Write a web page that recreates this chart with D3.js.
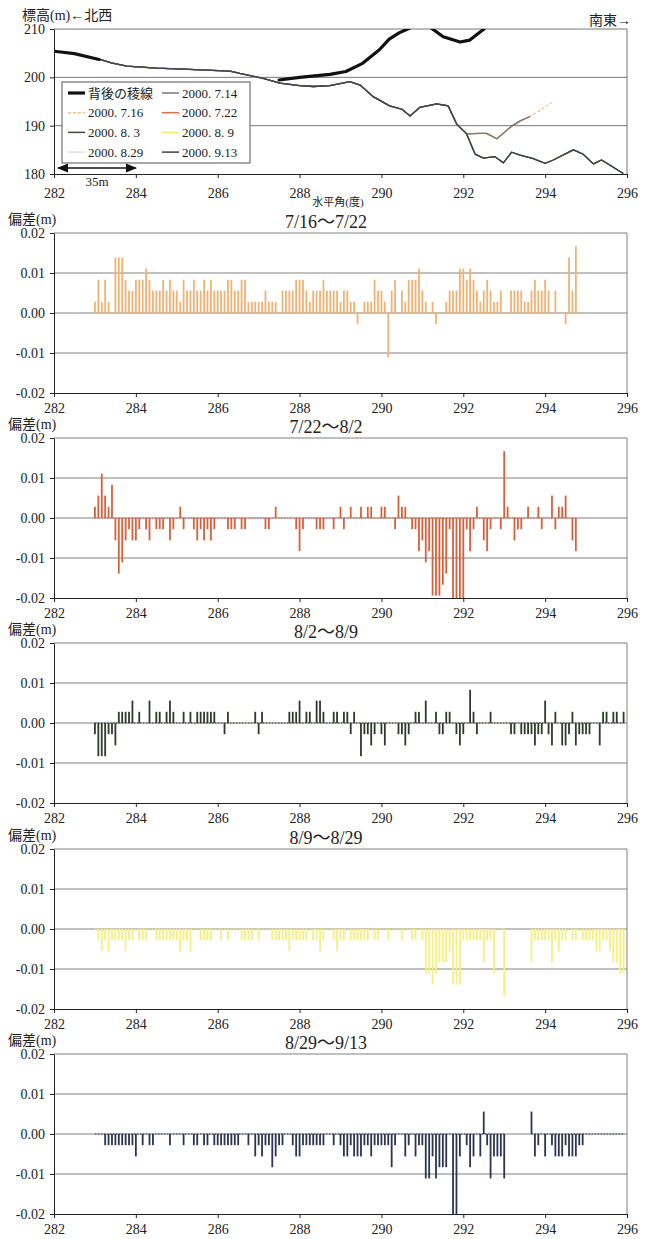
<!DOCTYPE html>
<html>
<head>
<meta charset="utf-8">
<title>偏差</title>
<script src="https://d3js.org/d3.v7.min.js"></script>
<style>
body{margin:0; background:white;}
svg{display:block; font-family:"Liberation Serif","Noto Sans CJK JP",serif;}
text{fill:#222;}
</style>
</head>
<body>
<script>
// ---- data ----
var xTicks = [282, 284, 286, 288, 290, 292, 294, 296];
var elevTicks = [180, 190, 200, 210];
var devTicks = [-0.02, -0.01, 0, 0.01, 0.02];

// measuring points: every 5' (1/12 deg) from 283.0
var angleStart = 283;
var angleStep = 1 / 12;

// ridge behind (背後の稜線), null = break
var ridgeAngle = [282.0, 282.5, 283.1, null, 287.5, 288.0, 288.74, 289.13, 289.54, 289.95, 290.19, 290.43, 290.67, 290.9, 291.1, 291.23, 291.51, 291.92, 292.16, 292.49, 292.6];
var ridgeElev  = [205.4, 204.9, 203.7, null, 199.45, 200.0, 200.6, 201.2, 202.9, 205.7, 207.9, 209.2, 210.1, 211.2, 211.0, 210.1, 208.4, 207.3, 207.7, 209.9, 210.8];

// surveyed profile, common part
var commonAngle = [283.0, 283.12, 283.4, 283.78, 284.5, 285.16, 285.73, 286.3, 286.54, 287.11, 287.52, 288.0, 288.34, 288.74, 289.23, 289.48, 289.8, 290.2, 290.5, 290.7, 290.94, 291.35, 291.63, 291.84, 292.08];
var commonElev  = [203.9, 203.7, 203.0, 202.3, 201.9, 201.7, 201.5, 201.3, 200.8, 199.8, 198.8, 198.3, 198.1, 198.3, 199.1, 198.4, 196.0, 194.1, 193.4, 192.0, 193.8, 194.5, 194.1, 190.3, 188.3];
// July: upper branch
var upperAngle = [292.4, 292.57, 292.82, 293.18, 293.39, 293.63];
var upperElev  = [188.4, 188.4, 187.3, 189.9, 191.0, 191.9];
var upperExtAngle = [293.9, 294.16];
var upperExtElev  = [193.3, 194.8];
// August / September: lower branch
var lowerAngle = [292.29, 292.49, 292.77, 292.98, 293.18, 293.39, 293.71, 294.0, 294.2, 294.69, 294.93, 295.18, 295.38, 295.91];
var lowerElev  = [184.1, 183.3, 183.6, 182.3, 184.5, 183.9, 183.2, 182.2, 182.9, 185.0, 184.1, 182.1, 182.9, 180.1];

var seriesNames = ["2000. 7.14", "2000. 7.16", "2000. 7.22", "2000. 8. 3", "2000. 8. 9", "2000. 8.29", "2000. 9.13"];
var seriesColors = ["#7a7a7a", "#f2c48c", "#d8704a", "#3e4d33", "#f2ee5a", "#e2e2da", "#3a4254"];
var seriesBranch = ["upper", "upperLong", "upper", "lower", "lower", "lower", "lower"];

// deviations (m)
var panelTitles = ["7/16～7/22", "7/22～8/2", "8/2～8/9", "8/9～8/29", "8/29～9/13"];
var barColors = ["#f2b274", "#d9603a", "#2e3b2a", "#f5f07c", "#2b3550"];

var dev1 = [0.0028,0.0083,0.0028,0.0083,0.0028,0,0.0139,0.0139,0.0139,0.0083,
 0.0056,0.0056,0.0083,0.0083,0.0083,0.0111,0.0083,0.0056,0.0056,0.0056,
 0.0083,0.0056,0.0083,0.0056,0.0056,0.0028,0.0083,0.0056,0.0056,0.0083,
 0.0056,0.0056,0.0083,0.0056,0.0083,0.0056,0.0056,0.0056,0.0056,0.0083,
 0.0083,0.0056,0.0056,0.0083,0.0083,0.0028,0.0028,0.0028,0.0028,0.0028,
 0.0056,0.0028,0.0028,0.0028,0,0.0056,0.0056,0.0056,0.0056,0.0083,
 0.0083,0.0083,0.0056,0.0028,0.0056,0.0056,0.0056,0.0083,0.0056,0.0056,
 0.0056,0.0056,0.0028,0.0056,0.0056,0.0028,0.0028,-0.0028,0,0.0028,
 0.0028,0.0028,0.0083,0.0056,0.0056,0.0028,-0.0111,0.0056,0.0083,0,
 0.0056,0.0028,0.0083,0.0083,0.0083,0.0111,0.0056,0.0028,0,0.0028,
 -0.0028,0,0,0.0028,0.0056,0.0056,0.0056,0.0111,0.0111,0.0083,
 0.0111,0.0083,0.0056,0.0028,0.0056,0.0083,0.0056,0.0028,0.0028,0.0056,
 0,0,0.0056,0.0056,0.0056,0.0056,0.0028,0.0028,0.0056,0.0083,
 0.0056,0.0056,0.0083,0.0056,0,0.0056,0,0,-0.0028,0.0139,
 0.0056,0.0167];

var dev2 = [0.0028,0.0056,0.0111,0.0056,0.0028,0.0083,-0.0056,-0.0139,-0.0111,-0.0056,
 -0.0028,-0.0056,-0.0056,-0.0028,0,-0.0028,-0.0056,0,-0.0028,-0.0028,
 -0.0028,0,-0.0056,-0.0028,0,0.0028,-0.0028,0,0,-0.0028,
 -0.0056,-0.0028,-0.0056,-0.0028,-0.0056,-0.0028,0,0,0,-0.0028,
 -0.0028,-0.0028,0,-0.0028,-0.0028,0,0,0,0,0,
 -0.0028,-0.0028,0,0.0028,0,0,0,0,0,-0.0028,
 -0.0083,-0.0028,0,0,0,-0.0028,-0.0028,-0.0028,0,0,
 -0.0028,0,0.0028,-0.0028,0,0.0028,0,0,0.0028,0,
 0.0028,0.0028,0,0,0.0028,0.0028,0,0,-0.0028,0.0056,
 0.0028,0.0028,0,-0.0028,-0.0028,-0.0083,-0.0056,-0.0111,-0.0083,-0.0194,
 -0.0194,-0.0194,-0.0167,-0.0139,-0.0028,-0.0222,-0.0222,-0.0222,-0.0222,-0.0028,
 -0.0083,-0.0028,0.0028,0,-0.0056,-0.0083,-0.0028,0,0,-0.0028,
 0.0167,0.0028,0,-0.0056,-0.0028,-0.0028,0,0.0028,0,0,
 0.0028,-0.0028,0,0,0.0056,-0.0028,0.0028,0.0028,0.0056,0,
 -0.0056,-0.0083];

var dev3 = [-0.0028,-0.0083,-0.0083,-0.0083,-0.0028,-0.0028,-0.0056,0.0028,0.0028,0.0028,
 0.0028,0.0056,0,0.0028,0,0,0.0056,0,0.0028,0.0028,
 0,0.0028,0.0056,0.0028,0,0,0.0028,0,0.0028,0,
 0.0028,0.0028,0.0028,0.0028,0.0028,0.0028,0,0,-0.0028,0.0028,
 0,0,0,0,0,0,0,0.0028,-0.0028,0.0028,
 0,0,0,0,0,0,0,0.0028,0.0028,0.0028,
 0.0056,0,0.0028,0.0028,0,0.0056,0.0056,0.0028,0,0,
 0.0028,0.0028,0,0.0028,0.0028,-0.0028,0.0028,0,-0.0083,-0.0028,
 -0.0028,-0.0056,-0.0028,0,-0.0028,-0.0056,0,0,0,-0.0028,
 -0.0028,-0.0056,-0.0028,0,0.0028,0.0028,0,0.0056,0,0,
 0.0028,-0.0028,-0.0028,0.0028,0.0028,0,-0.0028,-0.0056,-0.0028,0,
 0.0083,0.0028,-0.0028,0,0,0,0.0028,0,0,0,
 0,0,-0.0028,-0.0028,0,-0.0028,-0.0028,-0.0028,-0.0028,-0.0056,
 -0.0028,-0.0028,0.0056,-0.0028,-0.0056,0.0028,0,-0.0056,-0.0056,-0.0028,
 0.0028,-0.0056,-0.0028,-0.0028,-0.0028,-0.0028,0,0,-0.0056,0.0028,
 0.0028,0,0.0028,0.0028,0,0.0028];

var dev4 = [0,-0.0028,-0.0056,-0.0028,-0.0056,-0.0028,-0.0028,-0.0028,-0.0028,-0.0056,
 -0.0028,-0.0028,0,-0.0028,-0.0028,-0.0028,0,0,-0.0028,-0.0028,
 -0.0028,-0.0028,-0.0028,-0.0028,-0.0028,-0.0056,-0.0028,-0.0028,-0.0056,0,
 0,-0.0028,-0.0028,-0.0028,-0.0028,0,0,-0.0028,0,-0.0028,
 0,0,0,-0.0028,-0.0028,-0.0028,-0.0028,0,-0.0028,0,
 0,0,-0.0028,-0.0028,-0.0028,-0.0028,-0.0028,-0.0056,-0.0028,-0.0028,
 -0.0028,-0.0028,-0.0028,0,-0.0028,-0.0028,-0.0056,-0.0028,0,0,
 -0.0028,-0.0056,-0.0028,-0.0028,0,-0.0028,-0.0028,-0.0028,-0.0028,-0.0028,
 -0.0028,0,-0.0028,-0.0028,0,0,-0.0028,0,0,0,
 -0.0028,0,0,-0.0028,-0.0028,0,-0.0028,-0.0111,-0.0111,-0.0139,
 -0.0111,-0.0083,-0.0083,-0.0083,-0.0056,-0.0139,-0.0139,-0.0139,-0.0028,-0.0028,
 -0.0028,-0.0028,-0.0028,-0.0028,-0.0083,-0.0028,-0.0028,-0.0111,0,0,
 -0.0167,null,null,null,null,null,null,null,-0.0083,-0.0028,
 -0.0028,-0.0028,-0.0028,-0.0028,-0.0083,-0.0028,-0.0056,-0.0028,-0.0028,0,
 -0.0028,-0.0028,0,-0.0028,-0.0028,-0.0028,-0.0028,-0.0056,-0.0056,-0.0028,
 -0.0028,-0.0056,-0.0083,-0.0083,-0.0111,-0.0111];

var dev5 = [0,0,0,-0.0028,-0.0028,-0.0028,-0.0028,-0.0028,-0.0028,-0.0028,
 -0.0028,-0.0028,-0.0056,0,-0.0028,0,-0.0028,-0.0028,0,0,
 0,0,-0.0028,0,0,0,-0.0028,0,0,-0.0028,
 -0.0028,0,-0.0028,-0.0028,0,-0.0028,-0.0028,-0.0028,-0.0028,-0.0028,
 -0.0028,-0.0028,-0.0028,0,0,-0.0028,0,-0.0056,-0.0028,-0.0056,
 -0.0028,-0.0028,-0.0083,-0.0056,-0.0028,-0.0028,0,0,-0.0028,-0.0056,
 -0.0056,-0.0028,-0.0028,-0.0028,-0.0028,-0.0028,-0.0028,-0.0028,0,0,
 -0.0028,0,-0.0028,-0.0056,-0.0056,-0.0028,-0.0056,-0.0056,-0.0056,-0.0028,
 -0.0028,-0.0056,-0.0028,-0.0028,-0.0028,-0.0028,-0.0028,-0.0083,-0.0028,0,
 0,-0.0056,-0.0028,0,-0.0056,-0.0028,-0.0028,-0.0111,-0.0111,-0.0056,
 -0.0111,-0.0083,-0.0083,-0.0083,0,-0.0222,-0.0222,-0.0056,0,-0.0028,
 -0.0083,-0.0056,0,-0.0056,0.0056,-0.0028,-0.0111,-0.0056,-0.0056,-0.0056,
 -0.0111,null,null,null,null,null,null,null,0.0056,-0.0056,
 -0.0028,0,-0.0056,0,-0.0028,-0.0056,-0.0056,-0.0056,-0.0028,-0.0056,
 -0.0056,-0.0056,-0.0028,-0.0028,0,0,0,0,0,0,
 0,0,0,0,0,0];

var devSeries = [dev1, dev2, dev3, dev4, dev5];

// ---- drawing ----
var width = 652, height = 1239;
var svg = d3.select("body").append("svg").attr("width", width).attr("height", height);

var x = d3.scaleLinear().domain([282, 296]).range([54, 627]);

function styleAxis(g) {
  g.attr("font-family", null).attr("font-size", 14);
  g.select(".domain").attr("stroke", "#222");
  g.selectAll(".tick line").attr("stroke", "#222");
  g.selectAll(".tick text").attr("fill", "#222");
}

// ---------- top chart: elevation profile ----------
var topY0 = 29, topY1 = 174;
var yTop = d3.scaleLinear().domain([180, 210]).range([topY1, topY0]);

svg.append("g").selectAll("line")
  .data([190, 200, 210])
  .join("line")
  .attr("x1", x(282)).attr("x2", x(296))
  .attr("y1", function(d){ return yTop(d); }).attr("y2", function(d){ return yTop(d); })
  .attr("stroke", "#777").attr("stroke-width", 1);
svg.append("line").attr("x1", x(296)).attr("x2", x(296)).attr("y1", topY0).attr("y2", topY1)
  .attr("stroke", "#777");

svg.append("clipPath").attr("id", "clipTop")
  .append("rect").attr("x", x(282)).attr("y", topY0).attr("width", x(296) - x(282)).attr("height", topY1 - topY0);

function profile(branch) {
  var a = commonAngle.slice(), e = commonElev.slice();
  if (branch == "lower") {
    a = a.concat(lowerAngle); e = e.concat(lowerElev);
  } else {
    a = a.concat(upperAngle); e = e.concat(upperElev);
    if (branch == "upperLong") { a = a.concat(upperExtAngle); e = e.concat(upperExtElev); }
  }
  return a.map(function(v, i){ return [v, e[i]]; });
}

var line = d3.line()
  .defined(function(d){ return d[0] != null; })
  .x(function(d){ return x(d[0]); })
  .y(function(d){ return yTop(d[1]); });

var gLines = svg.append("g").attr("clip-path", "url(#clipTop)");
// light ones first, dark ones on top
[5, 1, 4, 2, 3, 0, 6].forEach(function(k){
  gLines.append("path")
    .attr("d", line(profile(seriesBranch[k])))
    .attr("fill", "none")
    .attr("stroke", seriesColors[k])
    .attr("stroke-width", 1.3)
    .attr("stroke-dasharray", k == 1 ? "3,2" : null);
});
gLines.append("path")
  .attr("d", line(ridgeAngle.map(function(v, i){ return [v, ridgeElev[i]]; })))
  .attr("fill", "none").attr("stroke", "#111").attr("stroke-width", 3.2)
  .attr("stroke-linejoin", "round").attr("stroke-linecap", "round");

svg.append("g").attr("transform", "translate(0," + topY1 + ")")
  .call(d3.axisBottom(x).tickValues(xTicks).tickSize(4).tickSizeOuter(0).tickPadding(10).tickFormat(d3.format("d")))
  .call(styleAxis);
svg.append("g").attr("transform", "translate(" + x(282) + ",0)")
  .call(d3.axisLeft(yTop).tickValues(elevTicks).tickSize(4).tickSizeOuter(0).tickPadding(5).tickFormat(d3.format("d")))
  .call(styleAxis);

svg.append("text").attr("x", 22).attr("y", 20).attr("font-size", 14).text("標高(m)←北西");
svg.append("text").attr("x", 631).attr("y", 25).attr("font-size", 14).attr("text-anchor", "end").text("南東→");
svg.append("text").attr("x", 338).attr("y", 206).attr("font-size", 11).attr("text-anchor", "middle").text("水平角(度)");

// 35m scale arrow
svg.append("defs").append("marker").attr("id", "arr")
  .attr("viewBox", "0 0 10 10").attr("refX", 9).attr("refY", 5)
  .attr("markerWidth", 7).attr("markerHeight", 7).attr("orient", "auto-start-reverse")
  .append("path").attr("d", "M0,1L10,5L0,9Z").attr("fill", "#111");
svg.append("line").attr("x1", x(282.1)).attr("x2", x(284.0)).attr("y1", 168).attr("y2", 168)
  .attr("stroke", "#111").attr("stroke-width", 1.6)
  .attr("marker-start", "url(#arr)").attr("marker-end", "url(#arr)");
svg.append("text").attr("x", x(283.05)).attr("y", 186).attr("font-size", 13).attr("text-anchor", "middle").text("35m");

// legend
var lg = svg.append("g");
lg.append("rect").attr("x", 62).attr("y", 82).attr("width", 188).attr("height", 81)
  .attr("fill", "white").attr("stroke", "#555").attr("stroke-width", 1);
var legendItems = [{name: "背後の稜線", color: "#111", w: 3.2, dash: null}].concat(
  seriesNames.map(function(n, i){ return {name: n, color: seriesColors[i], w: 1.5, dash: i == 1 ? "3,2" : null}; }));
legendItems.forEach(function(d, i){
  var col = i % 2, row = Math.floor(i / 2);
  var lx = col == 0 ? 68 : 162, ly = 93 + row * 19.7;
  lg.append("line").attr("x1", lx).attr("x2", lx + 17).attr("y1", ly).attr("y2", ly)
    .attr("stroke", d.color).attr("stroke-width", d.w).attr("stroke-dasharray", d.dash);
  lg.append("text").attr("x", lx + 20).attr("y", ly + 4.5).attr("font-size", 13).text(d.name);
});

// ---------- deviation panels ----------
var panelTops = [233, 438, 643, 849, 1054];
var panelH = 160;

devSeries.forEach(function(vals, p){
  var top = panelTops[p];
  var y = d3.scaleLinear().domain([-0.02, 0.02]).range([top + panelH, top]);
  var g = svg.append("g");
  var pts = vals.map(function(v, i){ return {a: angleStart + i * angleStep, v: v}; });

  // grid + frame
  g.selectAll(".grid").data([-0.01, 0, 0.01, 0.02]).join("line")
    .attr("x1", x(282)).attr("x2", x(296))
    .attr("y1", function(d){ return y(d); }).attr("y2", function(d){ return y(d); })
    .attr("stroke", "#808080").attr("stroke-width", 1);
  g.append("line").attr("x1", x(296)).attr("x2", x(296)).attr("y1", top).attr("y2", top + panelH)
    .attr("stroke", "#808080");

  // dotted zero baseline of the series
  g.append("path")
    .attr("d", d3.line()
      .defined(function(d){ return d.v !== null; })
      .x(function(d){ return x(d.a); })
      .y(function(){ return y(0); })(pts))
    .attr("fill", "none").attr("stroke", barColors[p]).attr("stroke-width", 1.2)
    .attr("stroke-dasharray", "1.5,1.5");

  // bars
  g.selectAll(".bar").data(pts.filter(function(d){ return d.v !== null && d.v !== 0; })).join("rect")
    .attr("x", function(d){ return x(d.a) - 0.9; })
    .attr("width", 1.8)
    .attr("y", function(d){ return y(Math.min(0.02, Math.max(0, d.v))); })
    .attr("height", function(d){ var v = Math.max(-0.02, Math.min(0.02, d.v)); return Math.abs(y(v) - y(0)); })
    .attr("fill", barColors[p]);

  g.append("g").attr("transform", "translate(0," + (top + panelH) + ")")
    .call(d3.axisBottom(x).tickValues(xTicks).tickSize(4).tickSizeOuter(0).tickPadding(6).tickFormat(d3.format("d")))
    .call(styleAxis);
  g.append("g").attr("transform", "translate(" + x(282) + ",0)")
    .call(d3.axisLeft(y).tickValues(devTicks).tickSize(4).tickSizeOuter(0).tickPadding(5)
      .tickFormat(function(d){ return d.toFixed(2); }))
    .call(styleAxis);

  g.append("text").attr("x", 8).attr("y", top - 9).attr("font-size", 14).text("偏差(m)");
  g.append("text").attr("x", 326).attr("y", top - 5).attr("font-size", 18).attr("text-anchor", "middle").text(panelTitles[p]);
});
</script>
</body>
</html>
